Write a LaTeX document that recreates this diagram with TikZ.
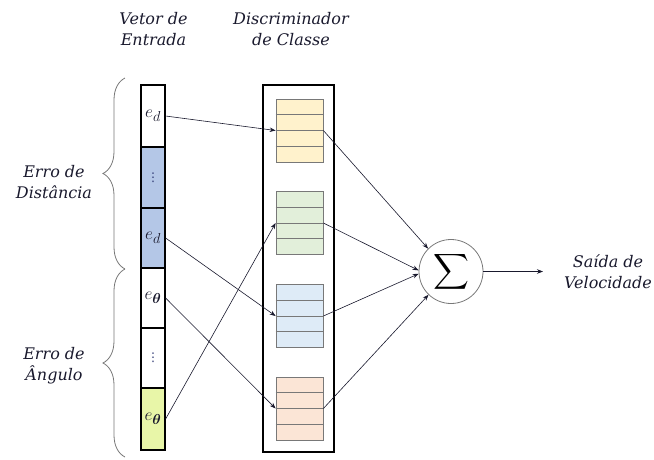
\documentclass[tikz,border=0pt]{standalone}
\usepackage{amsmath}
\usepackage{fontspec}
\setmainfont{DejaVu Serif}
\newfontfamily\dotsfont{DejaVu Sans}
\usetikzlibrary{arrows.meta,decorations.pathreplacing}
\definecolor{ink}{RGB}{25,25,45}
\definecolor{dotblue}{RGB}{40,50,110}
\definecolor{cellblue}{RGB}{180,199,231}
\definecolor{celllime}{RGB}{232,246,168}
\definecolor{binyellow}{RGB}{255,242,204}
\definecolor{bingreen}{RGB}{226,239,218}
\definecolor{binblue}{RGB}{222,235,247}
\definecolor{binorange}{RGB}{251,229,214}
\definecolor{bingray}{RGB}{120,120,120}
\begin{document}
\begin{tikzpicture}[x=1pt,y=-1pt,
  label/.style={font=\fontsize{16}{21}\selectfont\itshape, text=ink, align=center, inner sep=0pt},
  cell/.style={draw=black, line width=1.2pt, minimum width=24pt, inner sep=0pt, text=ink,
    font=\fontsize{19}{21}\selectfont},
  dotcell/.style={cell, text=dotblue, font=\dotsfont\fontsize{12}{14}\selectfont},
  bin/.style={draw=bingray, line width=0.8pt, minimum width=47pt, minimum height=63pt, inner sep=0pt},
  arr/.style={draw=ink, line width=0.6pt, -{Stealth[length=6pt,width=4.5pt]}},
  brc/.style={draw=bingray, line width=0.8pt, decorate,
    decoration={brace, amplitude=22pt, aspect=0.5}}]
\useasboundingbox (0,0) rectangle (654,459);

% column headings
\node[label] (hvec) at (153.5,29) {Vetor de\\Entrada};
\node[label] (hdisc) at (291,29) {Discriminador\\de Classe};

% input vector cells
\node[cell, minimum height=62pt] (c1) at (153,116) {$e_d$};
\node[dotcell, minimum height=61pt, fill=cellblue] (c2) at (153,177.5) {⋮};
\node[cell, minimum height=60pt, fill=cellblue] (c3) at (153,238) {$e_d$};
\node[cell, minimum height=60pt] (c4) at (153,298) {$e_{\boldsymbol{\theta}}$};
\node[dotcell, minimum height=60pt] (c5) at (153,358) {⋮};
\node[cell, minimum height=62pt, fill=celllime] (c6) at (153,419) {$e_{\boldsymbol{\theta}}$};

% group braces and their labels
\draw[brc] (125,269) -- (125,78);
\draw[brc] (125,457) -- (125,269);
\node[label] (ldist) at (54,182) {Erro de\\Distância};
\node[label] (lang) at (54,366) {Erro de\\Ângulo};

% class discriminator frame
\node[draw=black, line width=2pt, minimum width=71pt, minimum height=367pt, inner sep=0pt]
  (disc) at (298.5,268.5) {};

% memory bins, each split into four rows
\foreach \n/\y/\col in {by/130.5/binyellow, bg/223/bingreen, bb/316/binblue, bo/408.5/binorange}{
  \node[bin, fill=\col] (\n) at (299.5,\y) {};
  \foreach \k in {-15.75,0,15.75}
    \draw[bingray, line width=0.8pt] ([yshift=\k]\n.west) -- ([yshift=\k]\n.east);
}

% summation node
\node[circle, draw=bingray, line width=0.8pt, minimum size=64pt, inner sep=0pt]
  (sum) at (451,271.5) {\fontsize{27}{30}\selectfont$\displaystyle\sum$};

% output label
\node[label] (out) at (608,272) {Saída de\\Velocidade};
\coordinate (outtip) at (543,271.5);

% input connections
\draw[arr] (c1.east) -- (by.west);
\draw[arr] (c3.east) -- (bb.west);
\draw[arr] (c4.east) -- (bo.west);
\draw[arr] (c6.east) -- (bg.west);

% bins to summation
\draw[arr] (by.east) -- (sum.135);
\draw[arr] (bg.east) -- (sum.178);
\draw[arr] (bb.east) -- (sum.184);
\draw[arr] (bo.east) -- (sum.226);

% output
\draw[arr] (sum.east) -- (outtip);
\end{tikzpicture}
\end{document}
